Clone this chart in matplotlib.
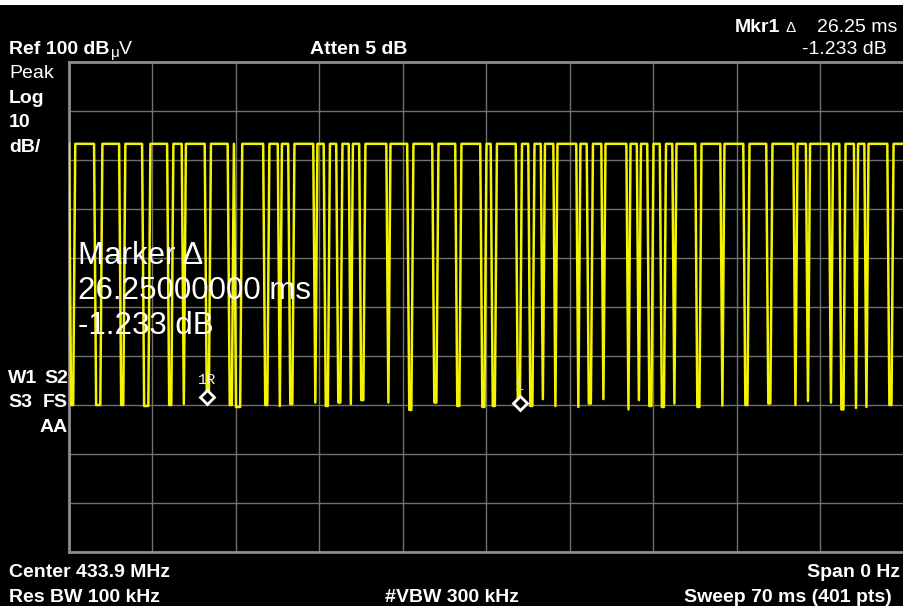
"""
Spectrum analyser screen: zero-span (time domain) OOK burst at 433.9 MHz,
70 ms sweep, 401 points, with a delta marker pair.
"""

import numpy as np
import matplotlib.pyplot as plt
from matplotlib.patches import Rectangle

W, H = 904, 610

# sweep settings
sweep_ms = 70.0
n_pts = 401
ref_level = 100.0      # dBuV, top of the screen
db_per_div = 10.0

# carrier-on level and the start of the sweep (trace starts high, drops, rises)
high_level = 83.3
start_dip = (0.10, 0.45)

# carrier-off gaps (ms) and the level the trace reaches in each gap (dBuV)
dip_start = [2.26, 4.36, 6.29, 8.38, 9.64, 11.40, 13.33, 13.90, 16.35, 17.52,
             18.53, 20.54, 21.38, 22.55, 23.47, 24.48, 26.66, 28.42, 30.60, 32.53,
             34.62, 35.38, 37.56, 38.65, 39.57, 40.66, 42.67, 43.51, 44.68, 46.78,
             47.62, 48.62, 49.63, 50.72, 52.65, 54.66, 56.67, 58.60, 60.86, 61.87,
             63.71, 64.72, 65.81, 66.73, 68.74]
dip_end = [2.68, 4.69, 6.71, 8.72, 9.72, 11.74, 13.66, 14.50, 16.77, 17.77,
           18.86, 20.71, 21.80, 22.80, 23.64, 24.73, 26.91, 28.75, 30.85, 32.86,
           34.87, 35.80, 37.89, 38.90, 39.74, 40.83, 42.75, 43.76, 44.85, 46.86,
           47.87, 48.88, 49.96, 50.88, 52.90, 54.91, 57.00, 58.85, 61.03, 62.12,
           63.88, 64.97, 66.06, 66.98, 69.08]
dip_level = [30.0, 30.0, 29.8, 30.0, 30.2, 31.7, 30.0, 29.6, 30.0, 29.8,
             30.2, 30.5, 29.8, 30.5, 30.2, 31.0, 30.5, 29.0, 30.5, 29.8,
             29.6, 29.8, 30.5, 29.8, 31.2, 29.8, 29.6, 30.3, 31.2, 29.1,
             31.0, 29.8, 29.6, 30.3, 29.6, 29.9, 30.0, 30.3, 30.0, 30.8,
             30.5, 29.1, 29.4, 29.6, 30.0]

# markers (trace point index)
mkr_ref_idx = 66
mkr_idx = 216

t = np.linspace(0, sweep_ms, n_pts)
trace = np.full(n_pts, high_level)
for s, e, lv in [(start_dip[0], start_dip[1], 30.0)] + list(zip(dip_start, dip_end, dip_level)):
    inside = (t >= s) & (t <= e)
    if not inside.any():
        inside[np.argmin(np.abs(t - (s + e) / 2))] = True
    trace[inside] = lv

fig = plt.figure(figsize=(W / 100, H / 100), dpi=100, facecolor='black')

# white screenshot margins
fig.patches.append(Rectangle((0, 1 - 5 / H), 1, 5 / H, transform=fig.transFigure,
                             facecolor='white', edgecolor='none', zorder=0))
fig.patches.append(Rectangle((0, 0), 1, 4 / H, transform=fig.transFigure,
                             facecolor='white', edgecolor='none', zorder=0))

ax = fig.add_axes([69 / W, 1 - 552 / H, (904 - 69) / W, (552 - 62) / H])
ax.set_facecolor('black')
ax.plot(t, trace, color='#f4f400', lw=1.8, zorder=3)
ax.set_xlim(0, sweep_ms)
ax.set_ylim(ref_level - 10 * db_per_div, ref_level)
ax.set_xticks(np.linspace(0, sweep_ms, 11))
ax.set_yticks(np.linspace(ref_level - 10 * db_per_div, ref_level, 11))
ax.grid(True, color='#707070', lw=1.0)
ax.tick_params(length=0, labelbottom=False, labelleft=False)
for sp in ax.spines.values():
    sp.set_color('#8c8c8c')
    sp.set_linewidth(2)

# delta marker pair
for idx, lab, lc in [(mkr_ref_idx, '1R', '#f2f2f2'), (mkr_idx, '1', '#e6d6b4')]:
    ax.plot(t[idx], trace[idx], marker='D', ms=7, mfc='black', mec='white',
            mew=2, zorder=5)
    ax.annotate(lab, (t[idx], trace[idx]), xytext=(0, 7), textcoords='offset points',
                ha='center', va='bottom', color=lc, fontsize=11,
                family='Liberation Mono', zorder=5)

delta_t = t[mkr_idx] - t[mkr_ref_idx]
delta_db = -1.233


def txt(x, y, s, size=14, bold=True, ha='left', color='white'):
    fig.text(x / W, 1 - y / H, s, fontsize=size, color=color, ha=ha, va='baseline',
             fontweight='bold' if bold else 'normal', family='Liberation Sans')


# top annotation lines
txt(9, 54, 'Ref 100 dB')
txt(111, 57, '\u03bc', size=11, bold=False)
txt(119, 54, 'V', bold=False)
txt(310, 54, 'Atten 5 dB')
txt(735, 32, 'Mkr1')
txt(786, 32, '\u0394', size=11, bold=False)
txt(897, 32, f'{delta_t:.2f} ms', bold=False, ha='right')
txt(887, 54, f'{delta_db:.3f} dB', bold=False, ha='right')

# left column
txt(9, 78, 'Peak', bold=False)
txt(9, 103, 'Log')
txt(9, 127, '10')
txt(9, 152, 'dB/')
txt(8, 383, 'W1')
txt(68, 383, 'S2', ha='right')
txt(8, 407, 'S3')
txt(68, 407, 'FS', ha='right')
txt(68, 432, 'AA', ha='right')

# big marker readout
txt(78, 264, 'Marker \u0394', size=22.5, bold=False)
txt(78, 299, f'{delta_t:.8f} ms', size=22.5, bold=False)
txt(78, 334, f'{delta_db:.3f} dB', size=22.5, bold=False)

# bottom annotation lines
txt(9, 577, 'Center 433.9 MHz')
txt(900, 577, 'Span 0 Hz', ha='right')
txt(9, 602, 'Res BW 100 kHz')
txt(452, 602, '#VBW 300 kHz', ha='center')
txt(892, 602, f'Sweep {sweep_ms:.0f} ms ({n_pts} pts)', ha='right')

fig.savefig('out.png', dpi=100, facecolor=fig.get_facecolor())
